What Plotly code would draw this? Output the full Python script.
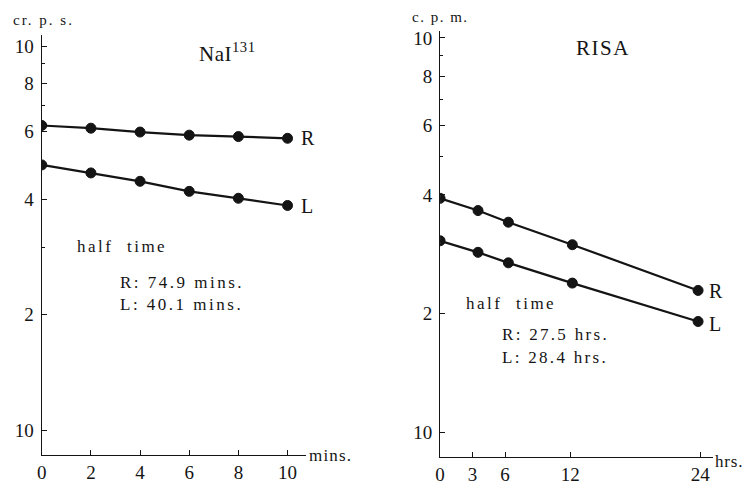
import plotly.graph_objects as go

# ---- data ----
nai_t = [0, 2, 4, 6, 8, 10]
nai_R = [6.22, 6.12, 5.98, 5.87, 5.82, 5.76]
nai_L = [4.91, 4.68, 4.45, 4.19, 4.02, 3.85]

risa_t = [0, 3.5, 6.3, 12.2, 23.8]
risa_R = [3.92, 3.65, 3.41, 2.99, 2.29]
risa_L = [3.06, 2.86, 2.69, 2.39, 1.91]

y_tickvals = [1, 2, 4, 6, 8, 10]
y_ticktext = ["10", "2", "4", "6", "8", "10"]
y_minor = [3, 5, 7, 9]
nai_xticks = [0, 2, 4, 6, 8, 10]
risa_xticks = [0, 3, 6, 12, 24]

W, H = 750, 487
FONT = "Liberation Serif, DejaVu Serif, serif"
INK = "#141414"

fig = go.Figure()

def add_series(x, y, xa, ya):
    fig.add_trace(go.Scatter(
        x=x, y=y, xaxis=xa, yaxis=ya, mode="lines+markers",
        line=dict(color=INK, width=2.2),
        marker=dict(color=INK, size=10, line=dict(color=INK, width=1)),
        showlegend=False, hoverinfo="skip"))

add_series(nai_t, nai_R, "x", "y")
add_series(nai_t, nai_L, "x", "y")
add_series(risa_t, risa_R, "x2", "y2")
add_series(risa_t, risa_L, "x2", "y2")

def px(x):
    return x / W

def py(y):
    return 1 - y / H

axis_common = dict(showgrid=False, zeroline=False, showline=True, linecolor=INK,
                   linewidth=1.3, ticks="inside", ticklen=5, tickcolor=INK,
                   tickfont=dict(family=FONT, size=19, color=INK), mirror=False)

fig.update_layout(
    width=W, height=H, margin=dict(l=0, r=0, t=0, b=0),
    paper_bgcolor="white", plot_bgcolor="white",
    xaxis=dict(domain=[px(37), px(303)], range=[0, 10.75], tickvals=nai_xticks,
               anchor="y", **axis_common),
    yaxis=dict(domain=[py(455), py(32)], type="log", range=[-0.065, 1.03],
               tickvals=y_tickvals, ticktext=y_ticktext, anchor="x",
               ticklabelstandoff=3,
               minor=dict(tickvals=y_minor, ticks="inside", ticklen=3, tickcolor=INK),
               **axis_common),
    xaxis2=dict(domain=[px(438), px(713)], range=[0, 25.2], tickvals=risa_xticks,
                anchor="y2", **axis_common),
    yaxis2=dict(domain=[py(457), py(28)], type="log", range=[-0.063, 1.018],
                tickvals=y_tickvals, ticktext=y_ticktext, anchor="x2",
                ticklabelstandoff=3,
                minor=dict(tickvals=y_minor, ticks="inside", ticklen=3, tickcolor=INK),
                **axis_common),
)

spacings = []

def note(text, x, y, size=17, spacing=2.5):
    fig.add_annotation(text=text, x=px(x), y=py(y), xref="paper", yref="paper",
                       xanchor="left", yanchor="middle", align="left", showarrow=False,
                       font=dict(family=FONT, size=size, color=INK))
    spacings.append(spacing)

# left panel texts
note("cr. p. s.", 6, 17, 15, 2.0)
note("NaI<sup>131</sup>", 193, 50, 21, 0.5)
note("R", 296, 136, 20, 0)
note("L", 296, 204, 20, 0)
note("half  time", 70, 245, 17, 2.5)
note("R: 74.9 mins.", 114, 281, 17, 2.5)
note("L: 40.1 mins.", 114, 303, 17, 2.5)
note("mins.", 304, 455, 17, 1.2)

# right panel texts
note("c. p. m.", 408, 14, 15, 1.5)
note("RISA", 573, 45, 21, 1.5)
note("R", 707, 290, 20, 0)
note("L", 707, 323, 20, 0)
note("half  time", 462, 302, 17, 2.5)
note("R: 27.5 hrs.", 498, 334, 17, 2.3)
note("L: 28.4 hrs.", 498, 357, 17, 2.3)
note("hrs.", 713, 461, 17, 0.8)

css = "".join(
    '.annotation[data-index="%d"] text { letter-spacing: %.1fpx; }' % (i, s)
    for i, s in enumerate(spacings)
)
post = ("var st=document.createElement('style');st.textContent=%r;"
        "document.head.appendChild(st);" % css)

fig.write_html("out.html", post_script=post)
